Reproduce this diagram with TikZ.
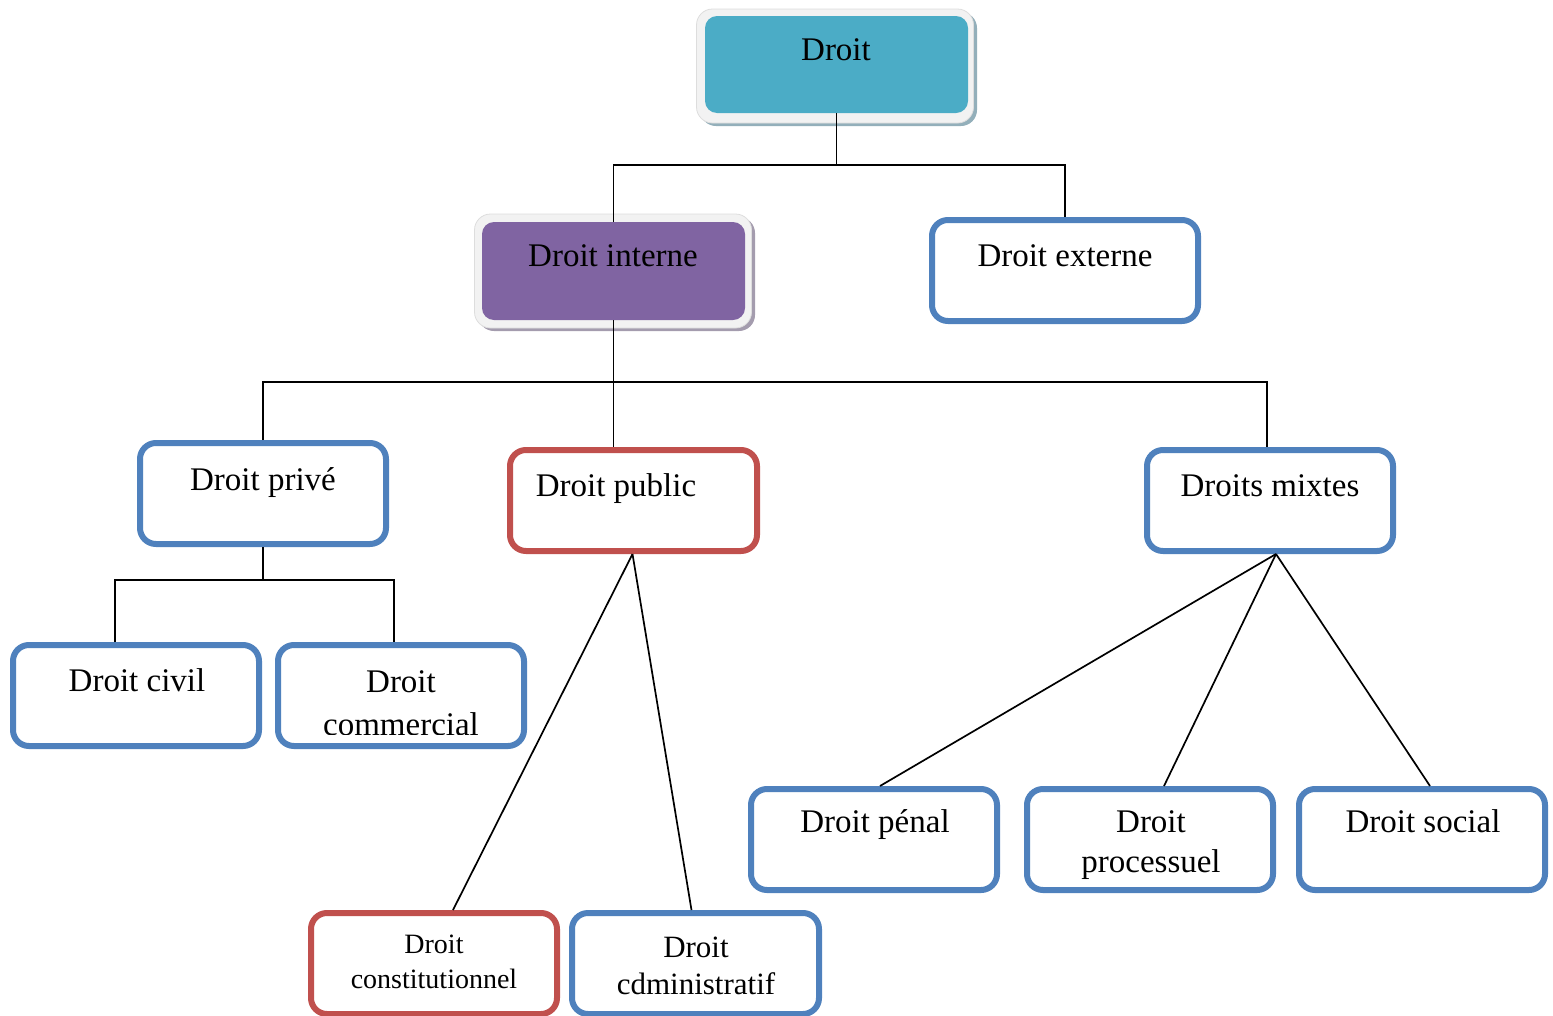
\documentclass[tikz,border=0pt]{standalone}
\usepackage{fontspec}
\setmainfont{Liberation Serif}
\begin{document}
\begin{tikzpicture}[x=1pt,y=-1pt,
  bluebox/.style={draw=boxblue,line width=6pt,rounded corners=16pt,fill=white,minimum width=246pt,minimum height=101pt,inner sep=0pt},
  redbox/.style={bluebox,draw=boxred},
  frame/.style={fill=frameg,draw=frameline,line width=0.8pt,rounded corners=16pt,minimum width=277pt,minimum height=114pt,inner sep=0pt},
  inner/.style={rounded corners=12pt,minimum width=263pt,minimum height=97pt,inner sep=0pt},
  txt/.style={anchor=base,inner sep=0pt,font=\fontsize{33}{40}\selectfont,align=center},
  conn/.style={draw=black,line width=1.7pt}]
\definecolor{boxblue}{HTML}{4F81BD}
\definecolor{boxred}{HTML}{C0504D}
\definecolor{teal}{HTML}{4BACC6}
\definecolor{purp}{HTML}{8064A2}
\definecolor{frameg}{HTML}{F2F2F2}
\definecolor{frameline}{HTML}{DDDDDD}
\definecolor{shadteal}{HTML}{93AFBA}
\definecolor{shadpurp}{HTML}{A49CAE}
\path[use as bounding box] (0,0) rectangle (1553,1015);
\clip (0,0) rectangle (1553,1015);
% top box Droit
\node[frame,fill=shadteal,draw=none] (droitS) at (838.5,69) {};
\node[frame] (droitF) at (835,66) {};
\node[inner,fill=teal] (droit) at (836.5,64.5) {};
\node[txt] (droitT) at (836,60) {Droit};
% Droit interne
\node[frame,fill=shadpurp,draw=none] (interneS) at (616.5,274) {};
\node[frame] (interneF) at (613,271) {};
\node[inner,fill=purp,minimum height=98pt] (interne) at (613.5,271) {};
\node[txt] (interneT) at (613,266) {Droit interne};
% level 2
\node[bluebox,minimum width=266pt] (externe) at (1065,270.5) {};
\node[txt] (externeT) at (1065,266) {Droit externe};
\node[bluebox] (prive) at (263,493.5) {};
\node[txt] (priveT) at (263,490) {Droit privé};
\node[redbox,minimum width=247pt] (public) at (633.5,500.5) {};
\node[txt] (publicT) at (616,496) {Droit public};
\node[bluebox] (mixtes) at (1270,500.5) {};
\node[txt] (mixtesT) at (1270,496) {Droits mixtes};
% level 3
\node[bluebox] (civil) at (136,695.5) {};
\node[txt] (civilT) at (137,691) {Droit civil};
\node[bluebox] (commercial) at (401,695.5) {};
\begin{scope}
\clip (278,645) rectangle (524,734);
\node[txt,font=\fontsize{33}{43}\selectfont] (commercialT) at (401,735) {Droit\\commercial};
\end{scope}
\node[bluebox] (penal) at (874,839.5) {};
\node[txt] (penalT) at (875,832) {Droit pénal};
\node[bluebox] (processuel) at (1150,839.5) {};
\node[txt] (processuelT) at (1151,872) {Droit\\processuel};
\node[bluebox] (social) at (1422,839.5) {};
\node[txt] (socialT) at (1423,832) {Droit social};
\node[redbox] (const) at (434,963.5) {};
\node[txt,font=\fontsize{28}{35}\selectfont] (constT) at (434,988) {Droit\\constitutionnel};
\node[bluebox,minimum width=247pt] (admin) at (695.5,963.5) {};
\node[txt,font=\fontsize{31}{37}\selectfont] (adminT) at (696,994) {Droit\\cdministratif};
% connectors
\coordinate (j1) at (836.5,165);
\draw[conn] (droit.south) -- (j1);
\draw[conn] (interne.north) |- (j1) -| (externe.north);
\coordinate (j2) at (612,382);
\draw[conn] (interne.south) -- (interne.south |- public.north);
\draw[conn] (prive.north) |- (j2) -| ([xshift=-3pt]mixtes.north);
\coordinate (j3) at (263,580);
\draw[conn] (prive.south) -- (j3);
\draw[conn] ([xshift=-21pt]civil.north) |- (j3) -| ([xshift=-7pt]commercial.north);
\draw[conn] ([xshift=-1pt]public.south) -- ([xshift=19pt]const.north);
\draw[conn] ([xshift=-1pt]public.south) -- ([xshift=-4pt]admin.north);
\draw[conn] ([xshift=6pt]mixtes.south) -- ([xshift=6pt]penal.north);
\draw[conn] ([xshift=6pt]mixtes.south) -- ([xshift=14pt]processuel.north);
\draw[conn] ([xshift=6pt]mixtes.south) -- ([xshift=8pt]social.north);
\end{tikzpicture}
\end{document}
